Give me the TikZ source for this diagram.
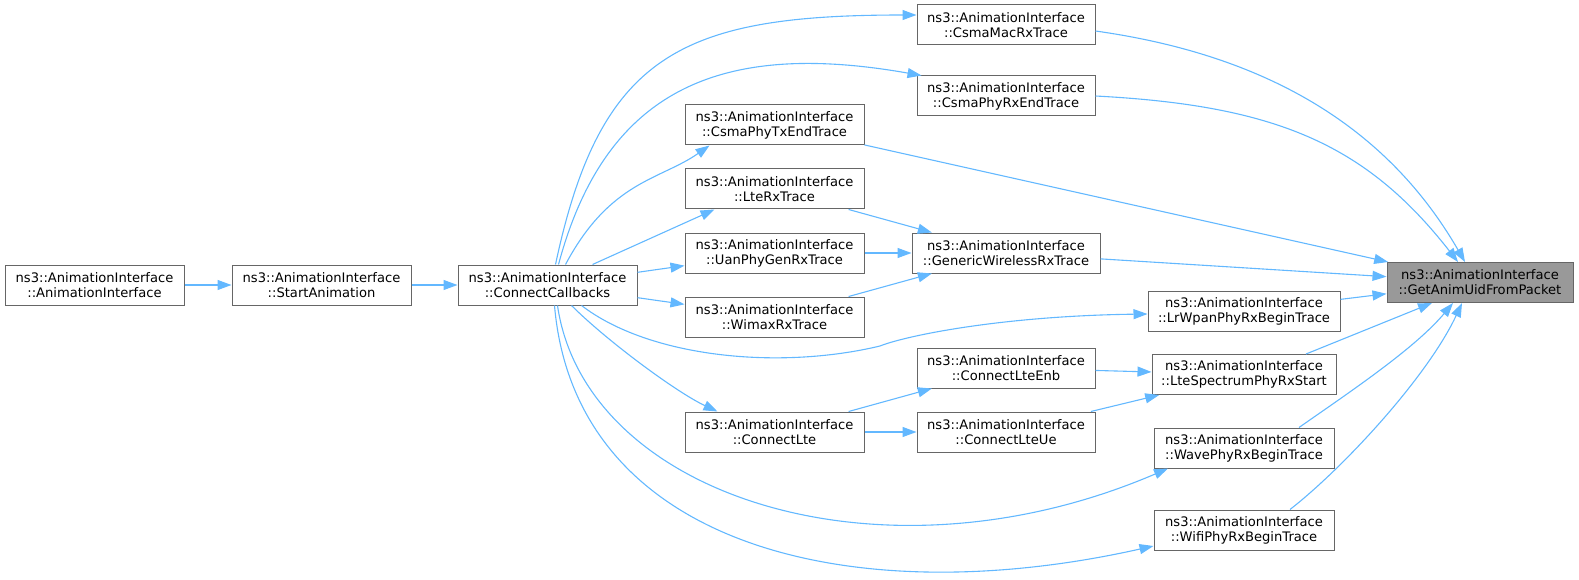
\documentclass[tikz,border=0pt]{standalone}
\usepackage{fontspec}
\setmainfont{DejaVu Sans}
\usepackage{tikz}
\usetikzlibrary{arrows.meta}
\definecolor{callblue}{HTML}{63B8FF}
\definecolor{boxgray}{HTML}{666666}
\definecolor{maingray}{HTML}{999999}
\newcommand\calleefont{\fontsize{13.1}{15}\selectfont}

\begin{document}
\begin{tikzpicture}[x=1pt,y=1pt]
\tikzstyle{every node}+=[inner sep=0pt]
\tikzstyle{fn}=[draw=boxgray, line width=1pt, fill=white, minimum width=179pt, minimum height=40pt, align=center, font=\calleefont]
\tikzstyle{fnmain}=[fn, fill=maingray]
\tikzstyle{call}=[draw=callblue, line width=1.1pt, -{Triangle[length=14pt,width=10pt]}]
\useasboundingbox (0,0) rectangle (1579,-580);
\node [fn] (ai) at (94.5,-285) {ns3::AnimationInterface\\::AnimationInterface};
\node [fn] (sa) at (321.5,-285) {ns3::AnimationInterface\\::StartAnimation};
\node [fn] (cc) at (547.5,-285) {ns3::AnimationInterface\\::ConnectCallbacks};
\node [fn, minimum width=178pt] (cmac) at (1006,-25) {ns3::AnimationInterface\\::CsmaMacRxTrace};
\node [fn, minimum width=178pt] (cphyrx) at (1006,-96) {ns3::AnimationInterface\\::CsmaPhyRxEndTrace};
\node [fn] (ctx) at (774.5,-125) {ns3::AnimationInterface\\::CsmaPhyTxEndTrace};
\node [fn] (lterx) at (774.5,-189) {ns3::AnimationInterface\\::LteRxTrace};
\node [fn] (uan) at (774.5,-253) {ns3::AnimationInterface\\::UanPhyGenRxTrace};
\node [fn] (wimax) at (774.5,-317) {ns3::AnimationInterface\\::WimaxRxTrace};
\node [fn, minimum width=188pt] (gwr) at (1006,-253) {ns3::AnimationInterface\\::GenericWirelessRxTrace};
\node [fn, minimum width=192pt] (lrwpan) at (1244,-311) {ns3::AnimationInterface\\::LrWpanPhyRxBeginTrace};
\node [fn, minimum width=178pt] (clteenb) at (1006,-368) {ns3::AnimationInterface\\::ConnectLteEnb};
\node [fn, minimum width=184pt] (ltespec) at (1244,-374.5) {ns3::AnimationInterface\\::LteSpectrumPhyRxStart};
\node [fn] (clte) at (774.5,-432) {ns3::AnimationInterface\\::ConnectLte};
\node [fn, minimum width=178pt] (clteue) at (1006,-432) {ns3::AnimationInterface\\::ConnectLteUe};
\node [fn, minimum width=180pt] (wave) at (1244,-448) {ns3::AnimationInterface\\::WavePhyRxBeginTrace};
\node [fn, minimum width=180pt] (wifi) at (1244,-530) {ns3::AnimationInterface\\::WifiPhyRxBeginTrace};
\node [fnmain, minimum width=186pt] (gau) at (1480,-282.5) {ns3::AnimationInterface\\::GetAnimUidFromPacket};
% callers of ConnectCallbacks
\draw [call] (ai) -- (sa);
\draw [call] (sa) -- (cc);
% ConnectCallbacks fan-out
\draw [call] ([xshift=8pt]cc.north) .. controls +(78:215) and +(180:235) .. ([yshift=10pt]cmac.west);
\draw [call] ([xshift=11pt]cc.north) .. controls +(75:185) and +(170:200) .. ([xshift=5pt]cphyrx.north west);
\draw [call] ([xshift=18pt]cc.north) .. controls +(62:95) and +(215:60) .. ([xshift=-65pt]ctx.south);
\draw [call] ([xshift=45pt]cc.north) -- ([xshift=-60pt]lterx.south);
\draw [call] (cc) -- (uan);
\draw [call] (cc) -- (wimax);
\draw [call] ([xshift=34pt]cc.south) .. controls (650,-358) and (780,-370) .. (880,-346) .. controls (905,-336) and (1000,-316) .. ([yshift=-3pt]lrwpan.west);
\draw [call] ([xshift=24pt]cc.south) .. controls +(-45:50) and +(155:45) .. ([xshift=-57pt]clte.north);
\draw [call] ([xshift=10pt]cc.south) .. controls (585,-495) and (880,-592) .. ([xshift=-76pt]wave.south);
\draw [call] ([xshift=7pt]cc.south) .. controls (575,-545) and (850,-614) .. ([yshift=-16pt]wifi.west);
% generic wireless rx
\draw [call] (lterx) -- (gwr);
\draw [call] (uan) -- (gwr);
\draw [call] (wimax) -- (gwr);
% lte
\draw [call] (clte) -- (clteenb);
\draw [call] (clte) -- (clteue);
\draw [call] (clteenb) -- (ltespec);
\draw [call] (clteue) -- (ltespec);
% into GetAnimUidFromPacket
\draw [call] ([yshift=-6pt]cmac.east) .. controls +(-8:180) and +(120:150) .. ([xshift=-15pt]gau.north);
\draw [call] (cphyrx.east) .. controls +(-3:180) and +(128:150) .. ([xshift=-22pt]gau.north);
\draw [call] (ctx) -- (gau);
\draw [call] (gwr) -- (gau);
\draw [call] (lrwpan) -- (gau);
\draw [call] ([xshift=62pt]ltespec.north) -- ([xshift=-48pt]gau.south);
\draw [call] ([xshift=55pt]wave.north) .. controls +(35:60) and +(230:60) .. ([xshift=-27pt]gau.south);
\draw [call] ([xshift=46pt]wifi.north) .. controls +(38:70) and +(245:80) .. ([xshift=-18pt]gau.south);
\end{tikzpicture}
\end{document}
